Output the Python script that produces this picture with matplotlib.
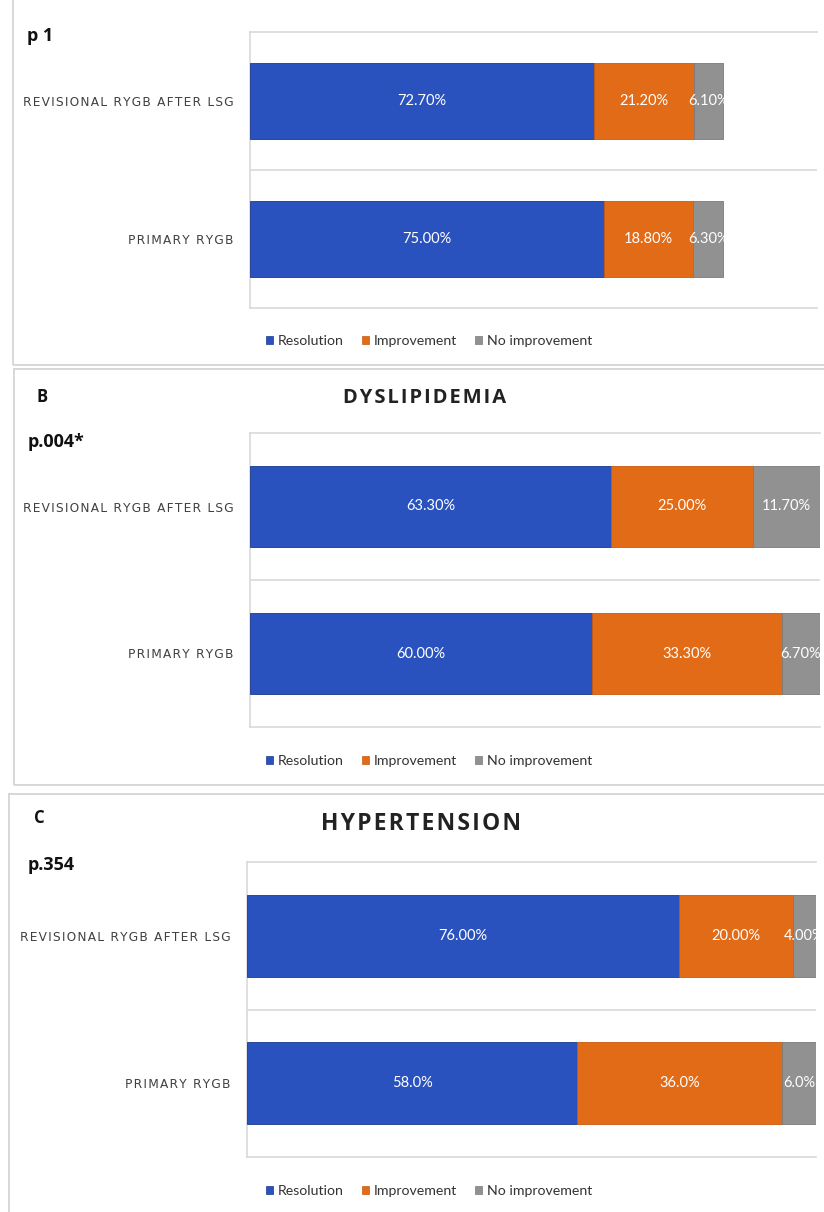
import matplotlib
matplotlib.use("Agg")
import matplotlib.pyplot as plt
from matplotlib.patches import Rectangle, Patch

# ---------------- data ----------------
categories = ["REVISIONAL RYGB AFTER LSG", "PRIMARY RYGB"]
series_names = ["Resolution", "Improvement", "No improvement"]

a_resolution = [72.7, 75.0]
a_improvement = [21.2, 18.8]
a_no_improvement = [6.1, 6.3]
a_decimals = [2, 2]

b_resolution = [63.3, 60.0]
b_improvement = [25.0, 33.3]
b_no_improvement = [11.7, 6.7]
b_decimals = [2, 2]

c_resolution = [76.0, 58.0]
c_improvement = [20.0, 36.0]
c_no_improvement = [4.0, 6.0]
c_decimals = [2, 1]

panel_letters = ["", "B", "C"]
panel_titles = ["", "DYSLIPIDEMIA", "HYPERTENSION"]
p_values = ["p 1", "p.004*", "p.354"]

colors = ["#2A52BE", "#E26B17", "#919191"]
edge_colors = ["#1B3A8C", "#C85A10", "#7A7A7A"]
grid_color = "#D9D9D9"

W, H = 824, 1212
fig = plt.figure(figsize=(W / 100, H / 100), dpi=100)
fig.patch.set_facecolor("white")

def fx(x):
    return x / W

def fy(y):
    return 1 - y / H

def spaced(s, sep="\u200a"):
    return sep.join(list(s))

# panel frames (pixel coordinates: x0, y0, x1, y1)
frames = [(13, -10, 840, 365), (14, 369, 840, 785), (9, 794, 840, 1230)]
for (x0, y0, x1, y1) in frames:
    fig.add_artist(Rectangle((fx(x0), fy(y1)), fx(x1 - x0), (y1 - y0) / H,
                             transform=fig.transFigure, facecolor="none",
                             edgecolor="#D4D4D4", lw=1.3, zorder=0))

# axes geometry (pixels: left, top, right, bottom), xmax
geoms = [(250, 32, 817, 308, 120.0), (250, 433, 820, 727, 100.0), (247, 862, 816, 1157, 100.0)]
legend_y = [341, 761, 1191]
title_pos = [(None, None), (425, 398), (421, 824)]
title_size = [0, 14.5, 16.5]
letter_pos = [(None, None), (37, 397), (34, 818)]
p_pos = [(27, 36), (28, 442), (28, 865)]

data = [
    (a_resolution, a_improvement, a_no_improvement, a_decimals),
    (b_resolution, b_improvement, b_no_improvement, b_decimals),
    (c_resolution, c_improvement, c_no_improvement, c_decimals),
]

lab_font = ["Lato", "DejaVu Sans"]

for i, (series_res, series_imp, series_no, decs) in enumerate(data):
    l, t, r, b, xmax = geoms[i]
    ax = fig.add_axes([fx(l), fy(b), fx(r - l), (b - t) / H])
    ax.set_xlim(0, xmax)
    ax.set_ylim(1.5, -0.5)
    ypos = list(range(len(categories)))
    left = [0.0] * len(categories)
    for k, vals in enumerate([series_res, series_imp, series_no]):
        bars = ax.barh(ypos, vals, left=left, height=0.555, color=colors[k],
                       edgecolor=edge_colors[k], linewidth=0.6, zorder=3)
        for j, (rect, v) in enumerate(zip(bars, vals)):
            txt = ax.text(left[j] + v / 2, ypos[j], f"{v:.{decs[j]}f}%",
                          ha="center", va="center", color="white",
                          fontsize=10.5, family=lab_font, zorder=4)
            txt.set_clip_path(rect)
        left = [a + v for a, v in zip(left, vals)]

    ax.set_yticks(ypos)
    ax.set_yticklabels([spaced(c, "\u200a") for c in categories],
                       fontsize=8.7, color="#404040", family=["DejaVu Sans"])
    ax.tick_params(axis="y", length=0, pad=12)
    ax.set_xticks([])
    ax.axhline(0.5, color=grid_color, lw=1.2, zorder=1)
    for sp in ["top", "bottom", "left"]:
        ax.spines[sp].set_color(grid_color)
        ax.spines[sp].set_linewidth(1.2)
    ax.spines["right"].set_visible(False)

    handles = [Patch(facecolor=colors[k], edgecolor=edge_colors[k], lw=0.5)
               for k in range(3)]
    fig.legend(handles, series_names, loc="center",
               bbox_to_anchor=(fx(429), fy(legend_y[i])), ncol=3, frameon=False,
               prop={"family": lab_font, "size": 10.2},
               handlelength=0.5, handleheight=0.5, handletextpad=0.35,
               columnspacing=1.25, labelcolor="#333333")

    if panel_titles[i]:
        tx, ty = title_pos[i]
        fig.text(fx(tx), fy(ty), spaced(panel_titles[i]), ha="center", va="center",
                 fontsize=title_size[i], fontweight="bold", color="#222222",
                 family=["Open Sans", "DejaVu Sans"])
    if panel_letters[i]:
        lx, ly = letter_pos[i]
        fig.text(fx(lx), fy(ly), panel_letters[i], ha="left", va="center",
                 fontsize=12, fontweight="bold", color="#111111",
                 family=["Open Sans", "DejaVu Sans"])
    px, py = p_pos[i]
    fig.text(fx(px), fy(py), p_values[i], ha="left", va="center",
             fontsize=13, fontweight="bold", color="#111111",
             family=["Open Sans", "DejaVu Sans"])

fig.savefig("out.png", dpi=100, facecolor="white")
